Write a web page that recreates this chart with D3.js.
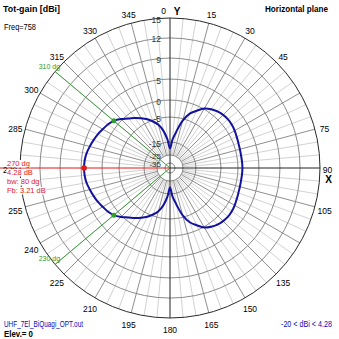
<!DOCTYPE html>
<html>
<head>
<meta charset="utf-8">
<script src="https://cdn.jsdelivr.net/npm/d3@7"></script>
<style>
  html, body { margin: 0; padding: 0; background: #fff; }
  svg { display: block; font-family: "Liberation Sans", Arial, sans-serif; }
</style>
</head>
<body>
<svg id="chart" width="339" height="339"></svg>
<script>
// Horizontal-plane total gain pattern (dBi) versus azimuth (degrees, 0 = Y axis, clockwise)
const azimuth = [
  0, 5, 10, 15, 20, 25, 30, 35, 40, 45, 50, 55, 60, 65, 70, 75, 80, 85,
  90, 95, 100, 105, 110, 115, 120, 125, 130, 135, 140, 145, 150, 155, 160, 165, 170, 175,
  180, 185, 190, 195, 200, 205, 210, 215, 220, 225, 230, 235, 240, 245, 250, 255, 260, 265,
  270, 275, 280, 285, 290, 295, 300, 305, 310, 315, 320, 325, 330, 335, 340, 345, 350, 355
];
const gainDbi = [
  -20, -14, -10.5, -5.8, -3.0, -1.4, 0.2, 0.9, 1.4, 1.7, 1.85, 1.8, 1.6, 1.35, 1.15, 1.05, 1.0, 1.03,
  1.07, 1.03, 1.0, 1.05, 1.15, 1.35, 1.6, 1.8, 1.85, 1.7, 1.4, 0.9, 0.2, -1.4, -3.0, -5.8, -10.5, -14,
  -20, -14, -10.3, -7.5, -5.6, -4.2, -3.1, -2.0, -1.0, 0.3, 1.28, 1.9, 2.3, 2.8, 3.2, 3.6, 4.0, 4.22,
  4.28, 4.22, 4.0, 3.6, 3.2, 2.8, 2.3, 1.9, 1.28, 0.3, -1.0, -2.0, -3.1, -4.2, -5.6, -7.5, -10.3, -14
];

// Gain rings and their labels
const ringValues = [15, 12, 9, 5, 0, -5, -15, -25, -35];
const ringLabels = ["15", "12", "9", "5", "0", "-5", "-15", "-25", "-35"];

// Azimuth tick labels
const angleTicks = [15, 30, 45, 75, 105, 135, 150, 165, 180, 195, 210, 225, 240, 255, 270, 285, 300, 315, 330, 345];

// Main-lobe marker and half-power beam edges
const peakAz = 270, peakGain = 4.28;
const beamEdges = [{ az: 310, gain: 1.28 }, { az: 230, gain: 1.28 }];
const peakNotes = ["270 dg", "4.28 dB", "bw: 80 dg", "Fb: 3.21 dB"];

const svg = d3.select("#chart");
const W = 339, H = 339, cx = 170, cy = 168, R = 150;

// Compressed (log-like) radial gain scale
const rScale = d3.scaleLinear()
  .domain(ringValues)
  .range([1, 0.867, 0.733, 0.593, 0.453, 0.34, 0.173, 0.087, 0.033].map(f => f * R))
  .clamp(true);

const rad = a => a * Math.PI / 180;
const px = (a, r) => cx + r * Math.sin(rad(a));
const py = (a, r) => cy - r * Math.cos(rad(a));

svg.append("rect").attr("width", W).attr("height", H).attr("fill", "#fff");

const g = svg.append("g");

// Spokes: light every 5 degrees, darker every 15 degrees
const spokeInner = rScale(-25);
const spokes = d3.range(0, 360, 5).filter(a => a % 90 !== 0);
g.selectAll("line.spoke")
  .data(spokes)
  .join("line")
  .attr("x1", a => px(a, spokeInner)).attr("y1", a => py(a, spokeInner))
  .attr("x2", a => px(a, R)).attr("y2", a => py(a, R))
  .attr("stroke", a => a % 15 === 0 ? "#8f8f8f" : "#d2d2d2")
  .attr("stroke-width", 1);

// Gain rings
g.selectAll("circle.ring")
  .data(ringValues)
  .join("circle")
  .attr("cx", cx).attr("cy", cy)
  .attr("r", v => rScale(v))
  .attr("fill", "none")
  .attr("stroke", (v, i) => i === 0 ? "#2a2a2a" : "#8a8a8a")
  .attr("stroke-width", 1);

// Axes
g.append("line").attr("x1", cx).attr("y1", cy - R).attr("x2", cx).attr("y2", cy + R)
  .attr("stroke", "#222").attr("stroke-width", 1);
g.append("line").attr("x1", cx).attr("y1", cy).attr("x2", cx + R).attr("y2", cy)
  .attr("stroke", "#222").attr("stroke-width", 1);

// Half-power beam edges
beamEdges.forEach(e => {
  g.append("line")
    .attr("x1", cx).attr("y1", cy)
    .attr("x2", px(e.az, R)).attr("y2", py(e.az, R))
    .attr("stroke", "#3c9a3c").attr("stroke-width", 1);
});

// Peak direction marker line
g.append("line").attr("x1", 0).attr("y1", cy).attr("x2", cx).attr("y2", cy)
  .attr("stroke", "#e01818").attr("stroke-width", 1);

// Pattern trace
const pattern = azimuth.map((a, i) => ({ az: a, gain: gainDbi[i] }));
const radial = d3.lineRadial()
  .angle(d => rad(d.az))
  .radius(d => rScale(d.gain))
  .curve(d3.curveCatmullRomClosed.alpha(0.5));
g.append("path")
  .attr("transform", `translate(${cx},${cy})`)
  .attr("d", radial(pattern))
  .attr("fill", "none")
  .attr("stroke", "#12129c")
  .attr("stroke-width", 2);

// Markers on the trace
beamEdges.forEach(e => {
  g.append("circle").attr("cx", px(e.az, rScale(e.gain))).attr("cy", py(e.az, rScale(e.gain)))
    .attr("r", 2.5).attr("fill", "#2ea02e");
});
g.append("circle").attr("cx", px(peakAz, rScale(peakGain))).attr("cy", py(peakAz, rScale(peakGain)))
  .attr("r", 2.8).attr("fill", "#e01818");

// Ring labels along the vertical axis
g.selectAll("text.ringlab")
  .data(ringValues)
  .join("text")
  .attr("x", 161)
  .attr("y", v => cy - rScale(v) + 1.5)
  .attr("text-anchor", "end")
  .attr("dominant-baseline", "central")
  .attr("font-size", (v, i) => i >= 7 ? 8 : 8.5)
  .attr("fill", "#333")
  .text((v, i) => ringLabels[i]);

// Azimuth labels
g.selectAll("text.anglab")
  .data(angleTicks)
  .join("text")
  .attr("x", a => px(a, 160))
  .attr("y", a => py(a, 160) + 2)
  .attr("text-anchor", "middle")
  .attr("dominant-baseline", "central")
  .attr("font-size", 8.5)
  .attr("fill", "#000")
  .text(a => String(a));

// Axis names at 0 and 90
g.append("text").attr("x", 166).attr("y", 11).attr("text-anchor", "end")
  .attr("dominant-baseline", "central").attr("font-size", 8.5).text("0");
g.append("text").attr("x", 177).attr("y", 11).attr("text-anchor", "middle")
  .attr("dominant-baseline", "central").attr("font-size", 10).attr("font-weight", "bold").text("Y");
g.append("text").attr("x", 327.5).attr("y", 169.5).attr("text-anchor", "middle")
  .attr("dominant-baseline", "central").attr("font-size", 8.5).text("90");
g.append("text").attr("x", 328.5).attr("y", 179).attr("text-anchor", "middle")
  .attr("dominant-baseline", "central").attr("font-size", 10).attr("font-weight", "bold").text("X");

// Beam edge labels
beamEdges.forEach(e => {
  g.append("text")
    .attr("x", px(e.az, R) + 5).attr("y", py(e.az, R) - 3)
    .attr("text-anchor", "end")
    .attr("font-size", 7)
    .attr("fill", "#2e9a2e")
    .text(`${e.az} dg`);
});

// Peak notes (red, on white boxes)
const noteBaselines = [166, 175, 184, 193];
peakNotes.forEach((t, i) => {
  const txt = g.append("text")
    .attr("x", 7).attr("y", noteBaselines[i])
    .attr("font-size", 7.5)
    .attr("fill", "#e01818")
    .text(t);
  const b = txt.node().getBBox();
  g.insert("rect", () => txt.node())
    .attr("x", b.x - 0.5).attr("y", b.y + 1).attr("width", b.width + 1).attr("height", b.height - 1.5)
    .attr("fill", "#fff");
});

// Header and footer texts
const label = (x, y, t, opts) => {
  const el = svg.append("text").attr("x", x).attr("y", y)
    .attr("font-size", opts.size).attr("fill", opts.fill || "#000")
    .attr("font-weight", opts.bold ? "bold" : "normal")
    .attr("text-anchor", opts.anchor || "start")
    .text(t);
  if (opts.len) el.attr("textLength", opts.len).attr("lengthAdjust", "spacingAndGlyphs");
  return el;
};
label(3, 12, "Tot-gain [dBi]", { size: 9.5, bold: true, len: 57 });
label(4, 30, "Freq=758", { size: 9, len: 32 });
label(265, 12, "Horizontal plane", { size: 9.5, bold: true, len: 63 });
label(4, 327, "UHF_7El_BiQuagi_OPT.out", { size: 9, fill: "#0a0ab4", len: 79 });
label(4, 337, "Elev.= 0", { size: 9.5, bold: true, len: 29 });
label(281, 327, "-20 < dBi < 4.28", { size: 9, fill: "#0a0ab4", len: 51 });
</script>
</body>
</html>
